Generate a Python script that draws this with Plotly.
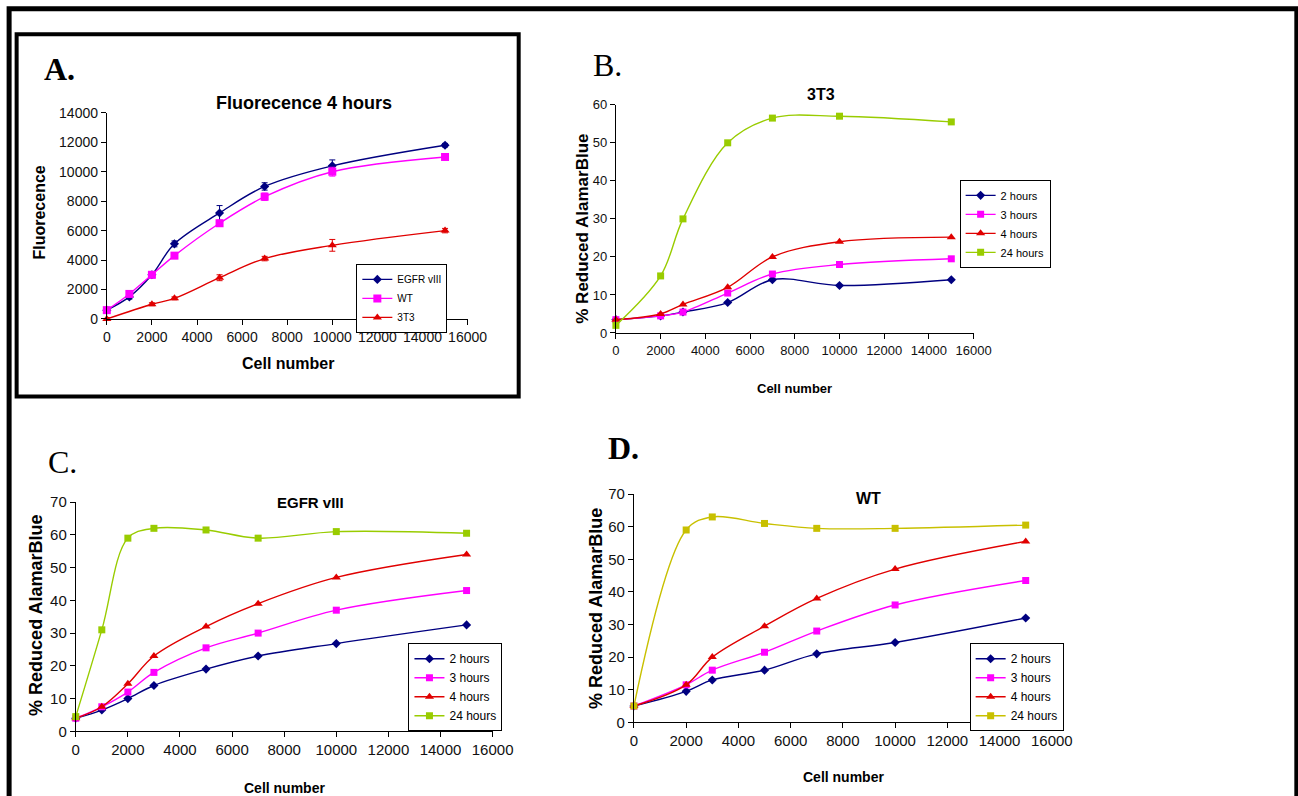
import plotly.graph_objects as go

# figure size chosen so that the photographed page lines up with the reference
FW, FH = 1321, 804
SX, OXP = 0.979, 4.4
SY, OYP = 0.978, 9.3

# ---------------- data ----------------
cells_a = [0, 1000, 2000, 3000, 5000, 7000, 10000, 15000]
cells_a_3t3 = [0, 2000, 3000, 5000, 7000, 10000, 15000]
fluor_egfr = [600, 1500, 3000, 5100, 7200, 9000, 10400, 11800]
fluor_egfr_err = [150, 150, 200, 200, 500, 250, 400, 120]
fluor_wt = [600, 1700, 3000, 4300, 6500, 8300, 10000, 11000]
fluor_wt_err = [150, 100, 200, 200, 200, 250, 300, 150]
fluor_3t3 = [0, 1000, 1400, 2800, 4100, 5000, 6000]
fluor_3t3_err = [100, 100, 100, 200, 150, 400, 150]

cells_b = [0, 2000, 3000, 5000, 7000, 10000, 15000]
b_2h = [3.5, 4.5, 5.5, 8, 14, 12.5, 14]
b_3h = [3.5, 4.5, 5.5, 10.5, 15.5, 18, 19.5]
b_4h = [3.5, 5, 7.5, 12, 20, 24, 25.2]
b_24h = [2, 15, 30, 50, 56.5, 57, 55.5]

cells_c = [0, 1000, 2000, 3000, 5000, 7000, 10000, 15000]
c_2h = [4, 6.5, 10, 14, 19, 23, 26.8, 32.5]
c_3h = [4, 7.5, 12, 18, 25.5, 30, 37, 43]
c_4h = [4, 7.5, 14.5, 23, 32, 39, 47, 54]
c_24h = [4.5, 31, 59, 62, 61.5, 59, 61, 60.5]

cells_d = [0, 2000, 3000, 5000, 7000, 10000, 15000]
d_2h = [5, 9.5, 13, 16, 21, 24.5, 32]
d_3h = [5, 11.5, 16, 21.5, 28, 36, 43.5]
d_4h = [5, 11.5, 20, 29.5, 38, 47, 55.5]
d_24h = [5, 59, 63, 61, 59.5, 59.5, 60.5]

names_a = ["EGFR vIII", "WT", "3T3"]
names_time = ["2 hours", "3 hours", "4 hours", "24 hours"]

# ---------------- styles ----------------
NAVY, MAG, RED, GREEN, OLIVE = "#000080", "#FF00FF", "#E00000", "#99CC00", "#C8C000"
SYM = {"2 hours": ("diamond", 7), "3 hours": ("square", 7), "4 hours": ("triangle-up", 8),
       "24 hours": ("square", 7)}


def px_x(r):
    return ((r - OXP) / SX) / FW


def px_y(r):
    return 1 - ((r - OYP) / SY) / FH


NARROW = "Liberation Sans Narrow, Arial Narrow, Liberation Sans, Arial"
SANS = "Liberation Sans, Arial"
SERIF = "Liberation Serif, Times New Roman"

fig = go.Figure()

# Panel A
for name, xs, ys, err, col, sym, sz in [
    (names_a[0], cells_a, fluor_egfr, fluor_egfr_err, NAVY, "diamond", 7),
    (names_a[1], cells_a, fluor_wt, fluor_wt_err, MAG, "square", 8),
    (names_a[2], cells_a_3t3, fluor_3t3, fluor_3t3_err, RED, "triangle-up", 8),
]:
    fig.add_trace(go.Scatter(
        x=xs, y=ys, name=name, mode="lines+markers", line=dict(color=col, width=1.4, shape="spline"),
        marker=dict(symbol=sym, size=sz, color=col),
        error_y=dict(type="data", array=err, color=col, thickness=1, width=3, symmetric=True),
        xaxis="x", yaxis="y", legend="legend", cliponaxis=False))

panels = [
    ("x2", "y2", "legend2", cells_b, [b_2h, b_3h, b_4h, b_24h], GREEN),
    ("x3", "y3", "legend3", cells_c, [c_2h, c_3h, c_4h, c_24h], GREEN),
    ("x4", "y4", "legend4", cells_d, [d_2h, d_3h, d_4h, d_24h], OLIVE),
]
for xa, ya, lg, xs, series, c24 in panels:
    for name, ys, col in zip(names_time, series, [NAVY, MAG, RED, c24]):
        sym, sz = SYM[name]
        fig.add_trace(go.Scatter(
            x=xs, y=ys, name=name, mode="lines+markers",
            line=dict(color=col, width=1.4, shape="spline"),
            marker=dict(symbol=sym, size=sz, color=col),
            xaxis=xa, yaxis=ya, legend=lg, cliponaxis=False))


def xaxis(x0, x1, anchor, font, size):
    return dict(domain=[px_x(x0), px_x(x1)], anchor=anchor, range=[0, 16000], dtick=2000,
                showgrid=False, zeroline=False, showline=True, linecolor="#000", linewidth=1,
                ticks="outside", ticklen=5, tickcolor="#000", tickformat="d",
                tickfont=dict(family=font, size=size, color="#111"), fixedrange=True)


def yaxis(y0, y1, anchor, top, dt, font, size):
    return dict(domain=[px_y(y1), px_y(y0)], anchor=anchor, range=[0, top], dtick=dt,
                showgrid=False, zeroline=False, showline=True, linecolor="#000", linewidth=1,
                ticks="outside", ticklen=5, tickcolor="#000", tickformat="d",
                tickfont=dict(family=font, size=size, color="#111"), fixedrange=True)


def legend(x0, y0, size):
    return dict(x=px_x(x0), y=px_y(y0), xanchor="left", yanchor="top",
                bordercolor="#000", borderwidth=1, bgcolor="#fff",
                font=dict(family=SANS, size=size, color="#000"), itemwidth=30,
                tracegroupgap=0)


annotations = []


def ann(text, x, y, size, family=SANS, bold=True, angle=0):
    annotations.append(dict(text=f"<b>{text}</b>" if bold else text, x=px_x(x), y=px_y(y),
                            xref="paper", yref="paper", showarrow=False, textangle=angle,
                            font=dict(family=family, size=size, color="#000"),
                            xanchor="center", yanchor="middle"))


# panel letters
ann("A.", 60, 69, 32, SERIF, bold=True)
ann("B.", 607, 65, 32, SERIF, bold=False)
ann("C.", 63, 462, 32, SERIF, bold=False)
ann("D.", 623, 448, 32, SERIF, bold=True)
# titles
ann("Fluorecence 4 hours", 304, 103, 18)
ann("3T3", 820, 95, 16, NARROW)
ann("EGFR vIII", 310, 502, 15)
ann("WT", 867, 498, 16, NARROW)
# axis titles
ann("Fluorecence", 40, 213, 16, angle=-90)
ann("Cell number", 288, 363, 16)
ann("% Reduced AlamarBlue", 582, 229, 17, angle=-90)
ann("Cell number", 793, 388, 13)
ann("% Reduced AlamarBlue", 37, 615, 18, angle=-90)
ann("Cell number", 284, 788, 14)
ann("% Reduced AlamarBlue", 595, 608, 18, angle=-90)
ann("Cell number", 842, 777, 14)

shapes = [
    # outer frame: open at the bottom
    dict(type="path", xref="paper", yref="paper",
         path=f"M {px_x(9.5)},0 L {px_x(9.5)},{px_y(9)} L {px_x(1294.5)},{px_y(9)} L {px_x(1294.5)},0",
         line=dict(color="#000", width=5)),
    dict(type="rect", xref="paper", yref="paper", x0=px_x(17), x1=px_x(518),
         y0=px_y(34.5), y1=px_y(396.5), line=dict(color="#000", width=4)),
]

fig.update_layout(
    width=FW, height=FH, autosize=False, margin=dict(l=0, r=0, t=0, b=0),
    paper_bgcolor="#fff", plot_bgcolor="#fff", showlegend=True,
    xaxis=xaxis(107, 467, "y", SANS, 14),
    yaxis=yaxis(113, 319, "x", 14000, 2000, SANS, 14),
    xaxis2=xaxis(615, 972, "y2", NARROW, 13),
    yaxis2=yaxis(105, 333, "x2", 60, 10, NARROW, 13),
    xaxis3=xaxis(76, 492, "y3", NARROW, 15),
    yaxis3=yaxis(502, 731, "x3", 70, 10, NARROW, 15),
    xaxis4=xaxis(633, 1050, "y4", NARROW, 15),
    yaxis4=yaxis(494, 722, "x4", 70, 10, NARROW, 15),
    legend=legend(356, 264, 10),
    legend2=legend(958, 180, 11),
    legend3=legend(408, 643, 12),
    legend4=legend(968, 643, 12),
    annotations=annotations, shapes=shapes,
)

fig.write_html("out.html")
